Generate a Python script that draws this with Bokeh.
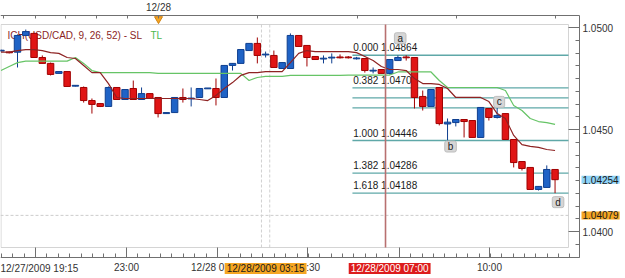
from bokeh.plotting import figure
from bokeh.models import (ColumnDataSource, LinearAxis, FixedTicker, Label, Range1d,
                          PrintfTickFormatter)
from bokeh.embed import file_html
from bokeh.resources import INLINE
from bokeh.core.properties import value

# ---------------- data ----------------
candle_idx = list(range(-1, 67))
opens = [1.04885, 1.04879, 1.04879, 1.04961, 1.04971, 1.04853, 1.04824, 1.04775, 1.04784, 1.04713,
         1.04706, 1.04642, 1.04627, 1.04613, 1.04706, 1.04647, 1.04701, 1.04647, 1.04676, 1.04657,
         1.04578, 1.04583, 1.04657, 1.04650, 1.04657, 1.04700, 1.04701, 1.04657, 1.04814, 1.04824,
         1.04887, 1.04922, 1.04866, 1.04863, 1.04799, 1.04799, 1.04961, 1.04912, 1.04858, 1.04846,
         1.04851, 1.04855, 1.04855, 1.04847, 1.04848, 1.04787, 1.04794, 1.04775, 1.04838, 1.04855,
         1.04853, 1.04662, 1.04613, 1.04706, 1.04527, 1.04534, 1.04549, 1.04544, 1.04461, 1.04603,
         1.04559, 1.04578, 1.04451, 1.04343, 1.04314, 1.04206, 1.04216, 1.04304]
closes = [1.04888, 1.04877, 1.04961, 1.04980, 1.04853, 1.04824, 1.04770, 1.04784, 1.04711, 1.04716,
          1.04642, 1.04623, 1.04613, 1.04706, 1.04647, 1.04696, 1.04647, 1.04676, 1.04652, 1.04578,
          1.04583, 1.04657, 1.04647, 1.04654, 1.04701, 1.04703, 1.04657, 1.04814, 1.04824, 1.04892,
          1.04922, 1.04863, 1.04869, 1.04804, 1.04828, 1.04961, 1.04907, 1.04853, 1.04843, 1.04849,
          1.04854, 1.04852, 1.04852, 1.04850, 1.04789, 1.04790, 1.04775, 1.04843, 1.04853, 1.04852,
          1.04657, 1.04613, 1.04696, 1.04529, 1.04536, 1.04549, 1.04539, 1.04461, 1.04608, 1.04559,
          1.04569, 1.04451, 1.04338, 1.04309, 1.04206, 1.04221, 1.04304, 1.04254]
highs = [1.04892, 1.04882, 1.04966, 1.04990, 1.04975, 1.04863, 1.04828, 1.04784, 1.04784, 1.04716,
         1.04711, 1.04652, 1.04630, 1.04711, 1.04706, 1.04696, 1.04740, 1.04706, 1.04676, 1.04657,
         1.04583, 1.04657, 1.04701, 1.04706, 1.04701, 1.04703, 1.04750, 1.04814, 1.04824, 1.04892,
         1.04922, 1.04951, 1.04882, 1.04887, 1.04828, 1.04971, 1.04961, 1.04912, 1.04858, 1.04863,
         1.04873, 1.04868, 1.04860, 1.04856, 1.04848, 1.04804, 1.04794, 1.04843, 1.04863, 1.04864,
         1.04853, 1.04691, 1.04696, 1.04706, 1.04554, 1.04549, 1.04549, 1.04544, 1.04608, 1.04603,
         1.04606, 1.04578, 1.04451, 1.04343, 1.04314, 1.04221, 1.04324, 1.04304]
lows = [1.04882, 1.04873, 1.04804, 1.04961, 1.04853, 1.04824, 1.04765, 1.04775, 1.04711, 1.04711,
        1.04632, 1.04578, 1.04610, 1.04613, 1.04647, 1.04647, 1.04647, 1.04647, 1.04652, 1.04559,
        1.04578, 1.04583, 1.04632, 1.04613, 1.04657, 1.04700, 1.04618, 1.04657, 1.04789, 1.04824,
        1.04887, 1.04824, 1.04853, 1.04804, 1.04799, 1.04799, 1.04907, 1.04809, 1.04843, 1.04824,
        1.04824, 1.04848, 1.04848, 1.04843, 1.04779, 1.04775, 1.04775, 1.04770, 1.04838, 1.04838,
        1.04603, 1.04593, 1.04613, 1.04520, 1.04446, 1.04515, 1.04461, 1.04461, 1.04461, 1.04544,
        1.04554, 1.04451, 1.04314, 1.04299, 1.04206, 1.04201, 1.04216, 1.04188]
# Ichimoku lines (dark red = 9 periods, green = 26 periods)
turning_line = [1.04879, 1.04879,
                1.04887, 1.04892, 1.04892, 1.04887, 1.04877, 1.04873, 1.04853, 1.04848, 1.04814,
                1.04779, 1.04779, 1.04725, 1.04657,
                1.04652, 1.04652, 1.04652, 1.04652, 1.04652, 1.04652, 1.04652, 1.04652, 1.04652,
                1.04647, 1.04642, 1.04667, 1.04701, 1.04730, 1.04765, 1.04779, 1.04779,
                1.04784, 1.04784, 1.04784,
                1.04828, 1.04873, 1.04887,
                1.04882, 1.04882, 1.04882, 1.04882, 1.04882,
                1.04877, 1.04858, 1.04838, 1.04809, 1.04794, 1.04794, 1.04789, 1.04750, 1.04725,
                1.04725, 1.04721, 1.04701,
                1.04657, 1.04657, 1.04657, 1.04657,
                1.04637, 1.04578, 1.04554, 1.04471, 1.04426, 1.04417, 1.04412, 1.04402, 1.04397]
standard_line = [1.04789, 1.04809, 1.04828,
                 1.04835, 1.04835, 1.04835, 1.04835, 1.04835, 1.04835,
                 1.04853, 1.04824, 1.04789,
                 1.04779, 1.04779, 1.04779, 1.04779, 1.04779, 1.04779, 1.04779,
                 1.04775, 1.04775, 1.04775, 1.04775, 1.04775, 1.04775, 1.04775, 1.04775, 1.04775,
                 1.04775, 1.04775,
                 1.04740, 1.04755,
                 1.04760, 1.04760, 1.04760,
                 1.04765, 1.04765, 1.04765, 1.04765, 1.04765, 1.04765, 1.04765,
                 1.04767, 1.04767, 1.04767, 1.04767, 1.04767, 1.04767,
                 1.04782, 1.04782, 1.04782, 1.04782, 1.04782,
                 1.04740,
                 1.04706, 1.04706, 1.04706, 1.04706, 1.04706, 1.04706, 1.04706,
                 1.04691, 1.04618, 1.04593, 1.04554, 1.04539, 1.04534, 1.04525]

fib_ratios = ["0.000", "0.382", "0.500", "0.618", "1.000", "1.382", "1.618"]
fib_levels = [1.04864, 1.04704, 1.04655, 1.04606, 1.04446, 1.04286, 1.04188]
fib_labeled = [True, True, False, False, True, True, True]

bottom_ticks = [3.18, 14.18, 25.18, 36.07, 47.19, 58.07]
bottom_labels = ["", "23:00", "12/28 01:45", "04:30", "07:15", "10:00"]
first_time_label = "12/27/2009 19:15"
top_ticks = [-0.69, 3.18, 6.80, 10.55, 14.30, 18.05, 30.02, 42.11, 54.08, 66.05]
day_tick, day_label = 18.05, "12/28"
y_ticks = [1.040, 1.045, 1.050]

last_price = 1.04254
order_price = 1.04079
highlight_candle, highlight_label = 31, "12/28/2009 03:15"
marker_candle, marker_label = 46, "12/28/2009 07:00"
point_labels = [("a", 48, "high"), ("b", 53, "low"), ("c", 59, "high"), ("d", 66, "low")]

assert len(opens) == len(closes) == len(highs) == len(lows) == len(candle_idx)
assert len(turning_line) == len(candle_idx) and len(standard_line) == len(candle_idx)

# ---------------- geometry helpers (styling only) ----------------
W, H = 625, 278
PXC = 8.27        # pixels per candle
PXP = 20400.0     # pixels per price unit


def kx(px):
    return 1 + (px - 17) / PXC


def py(pix):
    return 1.05 - (pix - 27) / PXP


FONT = "Liberation Sans"
AX = "#707070"

p = figure(width=W, height=H, x_range=Range1d(kx(0), kx(W)), y_range=Range1d(py(H), py(0)),
           output_backend="svg", toolbar_location=None,
           x_axis_location=None, y_axis_location=None,
           min_border_left=0, min_border_right=0, min_border_top=0, min_border_bottom=0)
p.outline_line_color = None
p.background_fill_color = "white"
p.border_fill_color = "white"
for g in p.grid:
    g.visible = False

# ---------------- axes ----------------
minor_y = [1.03875 + i * 0.000625 for i in range(20)]
minor_y = [m for m in minor_y if py(257) <= m <= py(15)]
yax = LinearAxis(ticker=FixedTicker(ticks=y_ticks, minor_ticks=minor_y),
                 formatter=PrintfTickFormatter(format="%.4f"),
                 fixed_location=kx(579), bounds=(py(257), py(15)))
yax.major_tick_in = 11
yax.major_tick_out = 0
yax.minor_tick_in = 4
yax.minor_tick_out = 0
yax.axis_line_color = AX
yax.major_tick_line_color = AX
yax.minor_tick_line_color = AX
yax.major_label_standoff = 3
yax.major_label_text_font = FONT
yax.major_label_text_font_size = "10px"
yax.major_label_text_color = "#333333"
p.add_layout(yax, "right")

step = (bottom_ticks[1] - bottom_ticks[0]) / 8
minor_x = [bottom_ticks[0] + (i - 4) * step for i in range(60)]
minor_x = [m for m in minor_x if kx(0) <= m <= kx(579)]
xax = LinearAxis(ticker=FixedTicker(ticks=bottom_ticks, minor_ticks=minor_x),
                 major_label_overrides={t: l for t, l in zip(bottom_ticks, bottom_labels)},
                 fixed_location=py(257), bounds=(kx(0), kx(579)))
xax.major_tick_in = 10
xax.major_tick_out = 0
xax.minor_tick_in = 4
xax.minor_tick_out = 0
xax.axis_line_color = AX
xax.major_tick_line_color = AX
xax.minor_tick_line_color = AX
xax.major_label_standoff = 4
xax.major_label_text_font = FONT
xax.major_label_text_font_size = "10px"
xax.major_label_text_color = "#333333"
p.add_layout(xax, "below")

tax = LinearAxis(ticker=FixedTicker(ticks=top_ticks, minor_ticks=[]),
                 major_label_overrides={t: (day_label if t == day_tick else "") for t in top_ticks},
                 fixed_location=py(15), bounds=(kx(0), kx(579)))
tax.major_tick_in = 3
tax.major_tick_out = 0
tax.minor_tick_in = 0
tax.minor_tick_out = 0
tax.major_label_standoff = 3
tax.major_label_text_font = FONT
tax.major_label_text_font_size = "10px"
tax.major_label_text_color = "#333333"
tax.axis_line_color = AX
tax.major_tick_line_color = AX
p.add_layout(tax, "above")

# ---------------- decorations ----------------
p.quad(left=kx(0.5), right=kx(568), top=py(24), bottom=py(247),
       fill_color=None, line_color="#d4d4d4", line_width=1)

p.segment(x0=kx(0), x1=kx(568), y0=order_price, y1=order_price,
          line_color="#cccccc", line_dash="3 2", line_width=1)
p.segment(x0=[highlight_candle - 0.5, highlight_candle + 0.5],
          x1=[highlight_candle - 0.5, highlight_candle + 0.5],
          y0=py(24), y1=py(247), line_color="#d0d0d0", line_dash="3 2", line_width=1)

# fibonacci lines
fib_x0 = 41.5
p.segment(x0=fib_x0, x1=kx(568), y0=fib_levels, y1=fib_levels,
          line_color="#5fa8a8", line_width=1.3)
ftxt = [f"{r} {lv:.5f}" for r, lv, s in zip(fib_ratios, fib_levels, fib_labeled) if s]
fy = [lv for lv, s in zip(fib_levels, fib_labeled) if s]
p.text(x=[fib_x0 + 0.1] * len(ftxt), y=fy, text=ftxt, y_offset=-2,
       text_font=value(FONT), text_font_size="10px", text_color="#1a1a1a",
       text_baseline="bottom", text_align="left")

# indicator legend text
p.text(x=[kx(7)], y=[py(35)], text=["ICH(USD/CAD, 9, 26, 52) - SL"],
       text_font=value(FONT), text_font_size="10px", text_color="#8b1f1f",
       text_baseline="alphabetic", text_align="left")
p.text(x=[kx(150)], y=[py(35)], text=["TL"],
       text_font=value(FONT), text_font_size="10px", text_color="#4cb84c",
       text_baseline="alphabetic", text_align="left")

# ---------------- candles ----------------
RED_F, RED_L = "#e01515", "#a00000"
BLUE_F, BLUE_L = "#1f63c6", "#0f3f8f"
tops, bots, fills, lines = [], [], [], []
for o, c in zip(opens, closes):
    t, b = max(o, c), min(o, c)
    if t - b < 0.00004:
        mid = (t + b) / 2
        t, b = mid + 0.00002, mid - 0.00002
    tops.append(t)
    bots.append(b)
    up = c >= o
    fills.append(BLUE_F if up else RED_F)
    lines.append(BLUE_L if up else RED_L)
src = ColumnDataSource(dict(x=candle_idx, high=highs, low=lows, top=tops, bottom=bots,
                            fill=fills, line=lines))
p.segment(x0="x", x1="x", y0="low", y1="high", line_color="line", line_width=1, source=src)
p.vbar(x="x", width=0.78, top="top", bottom="bottom", fill_color="fill",
       line_color="line", line_width=1, source=src)

# ichimoku lines
p.line(candle_idx, standard_line, line_color="#66c466", line_width=1.2)
p.line(candle_idx, turning_line, line_color="#8e2323", line_width=1.2)

# marker vertical line
p.segment(x0=marker_candle - 0.5, x1=marker_candle - 0.5, y0=py(24), y1=py(247),
          line_color="#b87070", line_width=1.6)

# top day marker
p.scatter(x=[day_tick], y=[py(18.5)], marker="inverted_triangle", size=8,
          fill_color="#f5a623", line_color="#d08010")

# a b c d point labels
offs = {"a": (-6, 17), "b": (3, -6), "c": (2, 6), "d": (3, -9)}
for name, ci, kind in point_labels:
    i = candle_idx.index(ci)
    yv = highs[i] if kind == "high" else lows[i]
    xo, yo = offs[name]
    p.add_layout(Label(x=ci, y=yv, x_offset=xo, y_offset=yo, text=name,
                       text_align="center", text_baseline="middle",
                       text_font=FONT, text_font_size="10px", text_color="#222222",
                       background_fill_color="#d6d6d6", border_line_color="#bdbdbd",
                       padding=(3, 0), border_radius=2))

# right price boxes
p.add_layout(Label(x=kx(581), y=last_price, text=f"{last_price:.5f}", text_align="left",
                   text_baseline="middle", text_font=FONT, text_font_size="10px",
                   text_color="#1a1a1a", background_fill_color="#8fd3f7", padding=(1, 0)))
p.add_layout(Label(x=kx(581), y=order_price, text=f"{order_price:.5f}", text_align="left",
                   text_baseline="middle", text_font=FONT, text_font_size="10px",
                   text_color="#1a1a1a", background_fill_color="#f5a623", padding=(1, 0)))

# bottom time labels
p.add_layout(Label(x=kx(0), y=py(268), text=first_time_label, text_align="left",
                   text_baseline="middle", text_font=FONT, text_font_size="10px",
                   text_color="#333333"))
p.add_layout(Label(x=highlight_candle, y=py(268), text=highlight_label, text_align="center",
                   text_baseline="middle", text_font=FONT, text_font_size="10px",
                   text_color="#1a1a1a", background_fill_color="#f5a623", padding=(2, 0)))
p.add_layout(Label(x=marker_candle, y=py(268), text=marker_label, text_align="center",
                   text_baseline="middle", text_font=FONT, text_font_size="10px",
                   text_color="white", background_fill_color="#dd1c1c", padding=(2, 0)))

open("out.html", "w").write(file_html(p, INLINE))
